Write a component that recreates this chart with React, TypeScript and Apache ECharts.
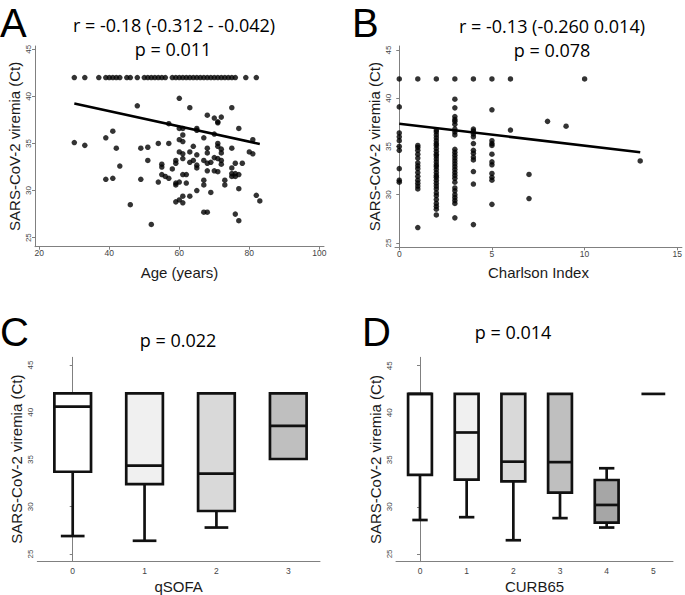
import React, { useEffect, useRef } from "react";
import * as echarts from "echarts";

// ---------- Panel A: Age vs Ct ----------
const ageAt42 = [30, 33, 37, 39, 40, 41, 42, 43, 45, 46, 48, 50, 51, 52, 53, 54, 55, 56, 58, 59, 60, 61, 62, 63, 64, 65, 66, 67, 68, 69, 70, 71, 72, 73, 74, 75, 76, 79, 82];
const ageA = [30, 33, 39, 39, 41, 41, 42, 43, 46, 48, 49, 49, 51, 51, 52, 54, 54, 55, 55, 55, 56, 57, 57, 57, 58, 59, 59, 59, 59, 59, 60, 60, 60, 60, 60, 60, 61, 61, 61, 61, 61, 61, 61, 61, 62, 62, 63, 63, 63, 63, 64, 64, 65, 65, 65, 65, 65, 65, 67, 67, 67, 67, 67, 68, 68, 68, 68, 68, 68, 69, 69, 70, 70, 70, 70, 71, 71, 71, 71, 71, 71, 72, 72, 72, 72, 72, 73, 73, 75, 75, 75, 75, 75, 76, 76, 76, 76, 77, 77, 77, 77, 78, 80, 81, 81, 82, 83];
const ctA = [35.1, 34.8, 35.6, 31.2, 36.3, 31.3, 34.5, 32.6, 28.5, 39.0, 34.5, 31.2, 34.6, 33.2, 26.4, 35.0, 30.9, 32.8, 32.5, 31.7, 31.5, 31.3, 37.1, 35.0, 32.3, 33.2, 32.9, 30.8, 30.6, 28.8, 39.8, 36.6, 35.4, 34.1, 30.9, 29.0, 36.6, 35.9, 35.2, 33.9, 33.4, 31.7, 29.4, 28.7, 31.7, 30.8, 38.8, 34.1, 33.0, 29.4, 34.7, 33.2, 36.6, 36.4, 33.8, 32.7, 32.4, 30.0, 35.6, 33.2, 31.1, 30.6, 27.7, 38.0, 34.5, 34.0, 32.9, 32.1, 27.7, 33.0, 29.8, 36.0, 33.5, 32.1, 37.7, 37.3, 37.2, 35.0, 34.7, 33.4, 32.0, 37.8, 34.4, 34.0, 33.2, 32.8, 31.1, 30.6, 38.8, 34.5, 32.4, 31.8, 31.5, 32.9, 31.8, 31.5, 27.5, 36.6, 31.7, 30.2, 26.8, 32.9, 34.1, 35.4, 33.9, 29.5, 28.9];
const fitAx = [30, 83];
const fitAy = [39.25, 34.95];

// ---------- Panel B: Charlson index vs Ct ----------
const charlsonLevels = [0, 1, 2, 3, 4, 5, 6, 7, 8, 9, 10, 13];
const ctByCharlson = [
  [42, 39.1, 36.4, 36.0, 35.6, 35.0, 34.6, 32.7, 31.5, 31.3],
  [42, 35.1, 34.9, 34.6, 34.2, 33.8, 33.3, 33.0, 32.7, 32.3, 31.9, 31.5, 31.2, 30.9, 30.6, 26.6],
  [42, 36.7, 36.5, 36.2, 35.9, 35.6, 35.3, 35.1, 34.8, 34.5, 34.2, 34.0, 33.7, 33.4, 33.1, 32.9, 32.6, 32.3, 32.0, 31.8, 31.5, 31.2, 30.9, 30.6, 30.2, 29.9, 29.5, 29.1, 28.8, 28.5, 27.9],
  [42, 39.9, 39.0, 38.1, 37.8, 37.6, 37.3, 36.8, 36.5, 36.2, 34.7, 34.4, 34.1, 33.8, 33.5, 33.2, 32.9, 32.6, 32.3, 32.0, 31.7, 31.3, 30.7, 30.4, 30.0, 29.7, 29.4, 29.1, 27.6],
  [42, 36.8, 36.6, 36.3, 36.0, 35.3, 34.6, 34.3, 33.9, 33.6, 32.4, 31.1, 26.9],
  [42, 38.8, 35.6, 35.3, 35.1, 34.2, 33.4, 33.1, 32.2, 31.8, 31.5, 29.0],
  [42, 36.7],
  [32.1, 29.6],
  [37.6],
  [37.1],
  [42],
  [33.5],
];
const fitBx = [0, 13];
const fitBy = [37.35, 34.4];

// ---------- Panel C: qSOFA boxplots ----------
const qsofaLevels = [0, 1, 2, 3];
const qsofaMin = [26.9, 26.4, 27.8, 35.05];
const qsofaQ1 = [33.7, 32.4, 29.55, 35.05];
const qsofaMed = [40.6, 34.35, 33.5, 38.55];
const qsofaQ3 = [42, 42, 42, 42];
const qsofaMax = [42, 42, 42, 42];
const qsofaFill = ["#ffffff", "#f0f0f0", "#d9d9d9", "#bfbfbf"];

// ---------- Panel D: CURB65 boxplots ----------
const curbLevels = [0, 1, 2, 3, 4, 5];
const curbMin = [28.6, 28.9, 26.45, 28.8, 27.8, 42];
const curbQ1 = [33.4, 32.9, 32.7, 31.5, 28.32, 42];
const curbMed = [42, 37.9, 34.8, 34.75, 30.2, 42];
const curbQ3 = [42, 42, 42, 42, 32.85, 42];
const curbMax = [42, 42, 42, 42, 34.1, 42];
const curbFill = ["#ffffff", "#f0f0f0", "#d9d9d9", "#bfbfbf", "#a6a6a6", "#a6a6a6"];

const yTicks = [25, 30, 35, 40, 45];
const FONT = "Liberation Sans";
const AXIS_COLOR = "#808080";
const LABEL_COLOR = "#444";

function yAxisCfg(gridIndex: number, min: number, max: number) {
  return {
    gridIndex,
    type: "value",
    min,
    max,
    axisLine: { show: true, lineStyle: { color: AXIS_COLOR, width: 1 } },
    axisTick: { show: true, length: 3, lineStyle: { color: AXIS_COLOR }, customValues: yTicks },
    axisLabel: { customValues: yTicks, rotate: 90, fontSize: 8, color: LABEL_COLOR, margin: 3, fontFamily: FONT },
    splitLine: { show: false },
    name: "SARS-CoV-2 viremia (Ct)",
    nameLocation: "middle",
    nameGap: 13,
    nameTextStyle: { fontSize: 15, color: "#1a1a1a", fontFamily: FONT },
  };
}

function xAxisCfg(gridIndex: number, min: number, max: number, ticks: number[], name: string, showTick: boolean, margin: number, nameGap: number) {
  return {
    gridIndex,
    type: "value",
    min,
    max,
    axisLine: { show: true, onZero: false, lineStyle: { color: AXIS_COLOR, width: 1 } },
    axisTick: { show: showTick, length: 3, lineStyle: { color: AXIS_COLOR }, customValues: ticks },
    axisLabel: { customValues: ticks, fontSize: 8.5, color: LABEL_COLOR, margin, fontFamily: FONT },
    splitLine: { show: false },
    name,
    nameLocation: "middle",
    nameGap,
    nameTextStyle: { fontSize: 15, color: "#1a1a1a", fontFamily: FONT },
  };
}

function boxRenderer(fills: string[]) {
  return (params: any, api: any) => {
    const x = api.value(0);
    const mn = api.value(1);
    const q1 = api.value(2);
    const md = api.value(3);
    const q3 = api.value(4);
    const mx = api.value(5);
    const unit = api.size([1, 0])[0];
    const hw = (unit * 0.51) / 2;
    const hc = (unit * 0.33) / 2;
    const pMin = api.coord([x, mn]);
    const pQ1 = api.coord([x, q1]);
    const pMd = api.coord([x, md]);
    const pQ3 = api.coord([x, q3]);
    const pMax = api.coord([x, mx]);
    const cx = pQ1[0];
    const st = { stroke: "#111", lineWidth: 2.7, fill: null, lineCap: "butt" };
    const children: any[] = [];
    if (mn < q1) {
      children.push({ type: "line", shape: { x1: cx, y1: pQ1[1], x2: cx, y2: pMin[1] }, style: st });
      children.push({ type: "line", shape: { x1: cx - hc, y1: pMin[1], x2: cx + hc, y2: pMin[1] }, style: st });
    }
    if (mx > q3) {
      children.push({ type: "line", shape: { x1: cx, y1: pQ3[1], x2: cx, y2: pMax[1] }, style: st });
      children.push({ type: "line", shape: { x1: cx - hc, y1: pMax[1], x2: cx + hc, y2: pMax[1] }, style: st });
    }
    if (q3 > q1) {
      children.push({
        type: "rect",
        shape: { x: cx - hw, y: pQ3[1], width: 2 * hw, height: pQ1[1] - pQ3[1] },
        style: { fill: fills[params.dataIndex], stroke: "#111", lineWidth: 2.7, lineJoin: "miter" },
      });
      children.push({ type: "line", shape: { x1: cx - hw, y1: pMd[1], x2: cx + hw, y2: pMd[1] }, style: st });
    } else {
      children.push({ type: "line", shape: { x1: cx - hw, y1: pQ1[1], x2: cx + hw, y2: pQ1[1] }, style: st });
    }
    return { type: "group", children };
  };
}

function textEl(text: string, x: number, y: number, size: number, align: string, family: string) {
  return {
    type: "text",
    x,
    y,
    style: { text, fontSize: size, fontFamily: family, fill: "#000", textAlign: align, textVerticalAlign: "middle" },
  };
}

export default function App() {
  const ref = useRef<HTMLDivElement>(null);
  useEffect(() => {
    if (!ref.current) return;
    const chart = echarts.init(ref.current, null, { renderer: "svg" });

    const scatterA = ageAt42.map((a) => [a, 42]).concat(ageA.map((a, i) => [a, ctA[i]]));
    const scatterB: number[][] = [];
    charlsonLevels.forEach((c, i) => ctByCharlson[i].forEach((v) => scatterB.push([c, v])));
    const boxC = qsofaLevels.map((l, i) => [l, qsofaMin[i], qsofaQ1[i], qsofaMed[i], qsofaQ3[i], qsofaMax[i]]);
    const boxD = curbLevels.map((l, i) => [l, curbMin[i], curbQ1[i], curbMed[i], curbQ3[i], curbMax[i]]);

    const TF = "Open Sans";
    const LF = "Liberation Sans";
    chart.setOption({
      animation: false,
      backgroundColor: "#ffffff",
      textStyle: { fontFamily: FONT },
      grid: [
        { left: 35, top: 46, width: 289, height: 200.7 },
        { left: 395, top: 46, width: 289, height: 201.3 },
        { left: 37.3, top: 357.3, width: 282.7, height: 203.7 },
        { left: 396, top: 357.3, width: 277, height: 204.4 },
      ],
      xAxis: [
        xAxisCfg(0, 18.77, 101.34, [20, 40, 60, 80, 100], "Age (years)", true, 2, 18),
        xAxisCfg(1, -0.23, 15.25, [0, 5, 10, 15], "Charlson Index", true, 2, 18),
        xAxisCfg(2, -0.4926, 3.4414, qsofaLevels, "qSOFA", false, 5, 17.5),
        xAxisCfg(3, -0.514, 5.421, curbLevels, "CURB65", false, 5, 17),
      ],
      yAxis: [
        yAxisCfg(0, 24.04, 45.35),
        yAxisCfg(1, 24.55, 45.41),
        yAxisCfg(2, 24.26, 45.81),
        yAxisCfg(3, 24.17, 45.89),
      ],
      series: [
        { type: "scatter", xAxisIndex: 0, yAxisIndex: 0, data: scatterA, symbolSize: 5.5, itemStyle: { color: "#000" } },
        { type: "line", xAxisIndex: 0, yAxisIndex: 0, data: fitAx.map((x, i) => [x, fitAy[i]]), showSymbol: false, lineStyle: { color: "#000", width: 2.5 } },
        { type: "scatter", xAxisIndex: 1, yAxisIndex: 1, data: scatterB, symbolSize: 5.5, itemStyle: { color: "#000" } },
        { type: "line", xAxisIndex: 1, yAxisIndex: 1, data: fitBx.map((x, i) => [x, fitBy[i]]), showSymbol: false, lineStyle: { color: "#000", width: 2.5 } },
        { type: "custom", xAxisIndex: 2, yAxisIndex: 2, data: boxC, renderItem: boxRenderer(qsofaFill), encode: { x: 0, y: [1, 2, 3, 4, 5] } },
        { type: "custom", xAxisIndex: 3, yAxisIndex: 3, data: boxD, renderItem: boxRenderer(curbFill), encode: { x: 0, y: [1, 2, 3, 4, 5] } },
      ],
      graphic: [
        textEl("A", 0, 22.5, 40, "left", LF),
        textEl("B", 352, 22.5, 40, "left", LF),
        textEl("C", 0, 332, 40, "left", LF),
        textEl("D", 362, 332, 40, "left", LF),
        textEl("r = -0.18 (-0.312 - -0.042)", 174, 25, 18, "center", TF),
        textEl("p = 0.011", 173, 49, 18, "center", TF),
        textEl("r = -0.13 (-0.260 0.014)", 552, 26, 18, "center", TF),
        textEl("p = 0.078", 552, 49.5, 18, "center", TF),
        textEl("p = 0.022", 178, 340, 18, "center", TF),
        textEl("p = 0.014", 513, 332, 18, "center", TF),
      ],
    });
    return () => chart.dispose();
  }, []);
  return <div ref={ref} style={{ position: "fixed", left: 0, top: 0, width: 685, height: 595, background: "#fff" }} />;
}
